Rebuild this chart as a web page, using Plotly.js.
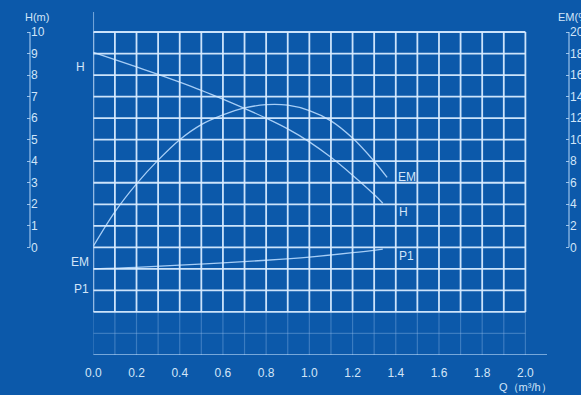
<!DOCTYPE html>
<html>
<head>
<meta charset="utf-8">
<script src="https://cdn.plot.ly/plotly-3.0.1.min.js"></script>
<style>html,body{margin:0;padding:0;background:#0c59aa;}#chart{width:581px;height:395px;}</style>
</head>
<body>
<div id="chart"></div>
<script>
// Flow Q (m³/h)
const qH  = [0, 0.1, 0.2, 0.3, 0.4, 0.5, 0.6, 0.7, 0.8, 0.9, 1.0, 1.1, 1.2, 1.3, 1.34];
// Head H (m)
const headH = [9.05, 8.72, 8.38, 8.03, 7.67, 7.29, 6.88, 6.45, 6.0, 5.5, 4.9, 4.18, 3.35, 2.45, 2.05];

const qEM = [0, 0.1, 0.2, 0.3, 0.4, 0.5, 0.6, 0.7, 0.8, 0.9, 1.0, 1.1, 1.2, 1.3, 1.36];
// Efficiency EM (%)
const effEM = [0.1, 3.3, 5.9, 8.1, 10.0, 11.4, 12.3, 12.95, 13.25, 13.2, 12.7, 11.75, 10.15, 8.0, 6.5];

const qP1 = [0, 0.2, 0.4, 0.6, 0.8, 1.0, 1.2, 1.34];
// Power P1 (drawn against the H scale, below zero)
const powP1 = [-1.0, -0.93, -0.83, -0.72, -0.6, -0.45, -0.25, -0.08];

const xTicks = [0, 0.2, 0.4, 0.6, 0.8, 1.0, 1.2, 1.4, 1.6, 1.8, 2.0];
const xTickText = ['0.0','0.2','0.4','0.6','0.8','1.0','1.2','1.4','1.6','1.8','2.0'];
const hTicks = [0,1,2,3,4,5,6,7,8,9,10];
const emTicks = [0,2,4,6,8,10,12,14,16,18,20];

const txt = '#d2e5f8';
const gridBright = 'rgba(215,235,255,0.95)';
const gridFaint = 'rgba(150,190,235,0.35)';
const curve = 'rgba(175,212,250,0.95)';
const axisCol = 'rgba(190,220,250,0.8)';

const shapes = [];
for (let i = 0; i <= 20; i++) {
  const x = i / 10;
  shapes.push({type:'line', xref:'x', yref:'y', x0:x, x1:x, y0:-3, y1:10, line:{color:gridBright, width:1.8}});
  shapes.push({type:'line', xref:'x', yref:'y', x0:x, x1:x, y0:-5, y1:-3, line:{color:gridFaint, width:1.2}});
}
for (let j = -3; j <= 10; j++) {
  shapes.push({type:'line', xref:'x', yref:'y', x0:0, x1:2.0, y0:j, y1:j, line:{color:gridBright, width:1.8}});
}
shapes.push({type:'line', xref:'x', yref:'y', x0:0, x1:2.0, y0:-4, y1:-4, line:{color:gridFaint, width:1.2}});
// bottom axis line and left main line extension
shapes.push({type:'line', xref:'x', yref:'y', x0:0, x1:2.1, y0:-5, y1:-5, line:{color:axisCol, width:1.5}});
shapes.push({type:'line', xref:'x', yref:'y', x0:0, x1:0, y0:10, y1:10.93, line:{color:axisCol, width:1.5}});
// outer axis lines
shapes.push({type:'line', xref:'paper', yref:'y', x0:30/581, x1:30/581, y0:0, y1:10, line:{color:axisCol, width:1.2}});
shapes.push({type:'line', xref:'paper', yref:'y', x0:569/581, x1:569/581, y0:0, y1:10, line:{color:axisCol, width:1.2}});

const traces = [
  {x:qH, y:headH, type:'scatter', mode:'lines', line:{color:curve, width:1.3, shape:'spline'}, xaxis:'x', yaxis:'y'},
  {x:qEM, y:effEM, type:'scatter', mode:'lines', line:{color:curve, width:1.3, shape:'spline'}, xaxis:'x', yaxis:'y2'},
  {x:qP1, y:powP1, type:'scatter', mode:'lines', line:{color:curve, width:1.3, shape:'spline'}, xaxis:'x', yaxis:'y'}
];

const font = {family:'Liberation Sans, Arial, sans-serif', size:12, color:txt};
function py(yPx){ return (395-40-yPx)/343; }
const lab = (text, xPx, yPx, anchor, f) => ({text, xref:'paper', yref:'paper', x:xPx/581, y:py(yPx), xanchor:anchor, yanchor:'middle', showarrow:false, font:f||font});
const annotations = [
  lab('H(m)', 37, 17, 'center', {family:font.family, size:11, color:txt}),
  lab('EM(%)', 556, 17, 'left', {family:font.family, size:11, color:txt}),
  lab('H', 87, 67, 'right'),
  lab('EM', 91, 262, 'right'),
  lab('P1', 91, 289, 'right'),
  lab('EM', 396, 177, 'left'),
  lab('H', 397, 212, 'left'),
  lab('P1', 397, 256, 'left'),
  lab('Q（m³/h）', 525, 387, 'center', {family:font.family, size:11, color:txt})
];

const layout = {
  width:581, height:395,
  margin:{l:0, r:0, t:12, b:40},
  paper_bgcolor:'#0c59aa', plot_bgcolor:'#0c59aa',
  showlegend:false, hovermode:false,
  xaxis:{domain:[93.3/581, 547/581], range:[0,2.1], showgrid:false, zeroline:false, showline:false,
    tickvals:xTicks, ticktext:xTickText, ticks:'', ticklabelstandoff:9, tickfont:font},
  yaxis:{range:[-5,10.93], anchor:'free', position:30/581, side:'right', showgrid:false, zeroline:false, showline:false,
    tickvals:hTicks, ticks:'inside', ticklen:3, tickcolor:axisCol, tickwidth:1, tickfont:font},
  yaxis2:{range:[-10,21.86], overlaying:'y', anchor:'free', position:569/581, side:'right', showgrid:false, zeroline:false, showline:false,
    tickvals:emTicks, ticks:'inside', ticklen:3, tickcolor:axisCol, tickwidth:1, tickfont:font},
  shapes, annotations
};

Plotly.newPlot('chart', traces, layout, {displayModeBar:false, staticPlot:true});
</script>
</body>
</html>
